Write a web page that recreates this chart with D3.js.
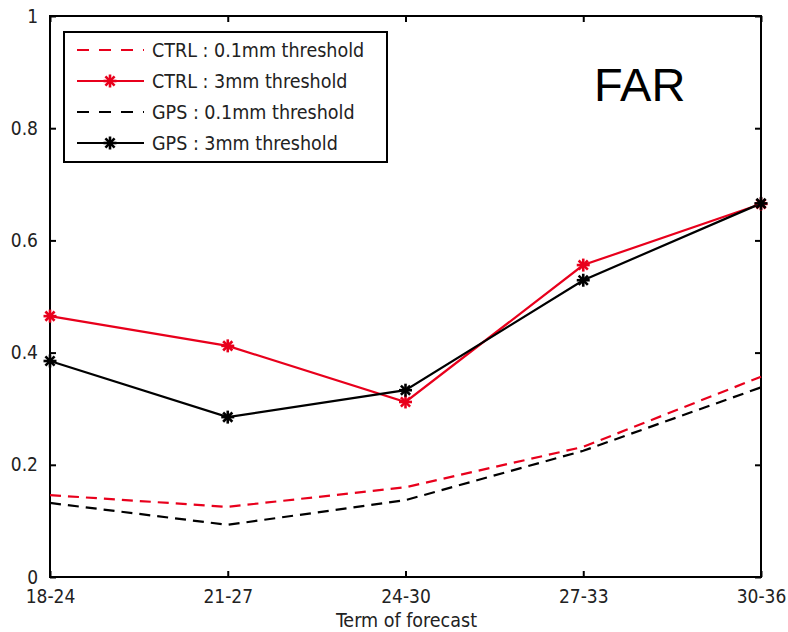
<!DOCTYPE html>
<html>
<head>
<meta charset="utf-8">
<script src="https://cdn.jsdelivr.net/npm/d3@7"></script>
<style>
  body { margin: 0; background: #fff; }
  svg text { font-family: "DejaVu Sans Condensed", "Liberation Sans Narrow", "DejaVu Sans", sans-serif; }
</style>
</head>
<body>
<script>
var terms = ["18-24", "21-27", "24-30", "27-33", "30-36"];
var ctrl01 = [0.146, 0.125, 0.160, 0.232, 0.357];
var ctrl3 = [0.465, 0.412, 0.312, 0.556, 0.665];
var gps01 = [0.132, 0.093, 0.137, 0.225, 0.338];
var gps3 = [0.385, 0.285, 0.333, 0.529, 0.666];
var yTicks = [0, 0.2, 0.4, 0.6, 0.8, 1];
var yTickLabels = ["0", "0.2", "0.4", "0.6", "0.8", "1"];

var series = [
  {name: "CTRL : 0.1mm threshold", values: ctrl01, color: "#e8001c", dash: "11,7", marker: false},
  {name: "CTRL : 3mm threshold", values: ctrl3, color: "#e8001c", dash: null, marker: true},
  {name: "GPS : 0.1mm threshold", values: gps01, color: "#000", dash: "11,7", marker: false},
  {name: "GPS : 3mm threshold", values: gps3, color: "#000", dash: null, marker: true}
];

var W = 788, H = 632;
var margin = {left: 50, right: 27, top: 16, bottom: 55};
var svg = d3.select("body").append("svg").attr("width", W).attr("height", H);

var x = d3.scalePoint().domain(terms).range([margin.left, W - margin.right]);
var y = d3.scaleLinear().domain([0, 1]).range([H - margin.bottom, margin.top]);

// frame
svg.append("rect")
  .attr("x", margin.left).attr("y", margin.top)
  .attr("width", W - margin.left - margin.right)
  .attr("height", H - margin.top - margin.bottom)
  .attr("fill", "none").attr("stroke", "#000").attr("stroke-width", 2);

// axes (ticks inward)
var xAxis = svg.append("g").attr("transform", "translate(0," + y(0) + ")")
  .call(d3.axisBottom(x).tickSizeInner(-6).tickSizeOuter(0).tickPadding(13));
var xTop = svg.append("g").attr("transform", "translate(0," + y(1) + ")")
  .call(d3.axisTop(x).tickSizeInner(-6).tickSizeOuter(0).tickFormat(""));
var yAxis = svg.append("g").attr("transform", "translate(" + margin.left + ",0)")
  .call(d3.axisLeft(y).tickValues(yTicks).tickFormat(function(d, i) { return yTickLabels[i]; })
    .tickSizeInner(-6).tickSizeOuter(0).tickPadding(12));
var yRight = svg.append("g").attr("transform", "translate(" + (W - margin.right) + ",0)")
  .call(d3.axisRight(y).tickValues(yTicks).tickSizeInner(-6).tickSizeOuter(0).tickFormat(""));

[xAxis, xTop, yAxis, yRight].forEach(function(g) {
  g.select(".domain").remove();
  g.selectAll(".tick line").attr("stroke", "#000").attr("stroke-width", 2);
  g.selectAll("text").attr("fill", "#222").style("font-size", "19px");
});

svg.append("text").attr("x", (margin.left + W - margin.right) / 2 + 1).attr("y", 627)
  .attr("text-anchor", "middle").attr("fill", "#222").style("font-size", "19.5px")
  .text("Term of forecast");

// lines
var line = d3.line().x(function(d, i) { return x(terms[i]); }).y(function(d) { return y(d); });

function asterisk(g, cx, cy, color) {
  var r = 6.5;
  [0, 45, 90, 135].forEach(function(a) {
    var rad = a * Math.PI / 180;
    g.append("line")
      .attr("x1", cx - r * Math.cos(rad)).attr("y1", cy - r * Math.sin(rad))
      .attr("x2", cx + r * Math.cos(rad)).attr("y2", cy + r * Math.sin(rad))
      .attr("stroke", color).attr("stroke-width", 2.6);
  });
}

var plot = svg.append("g");
series.forEach(function(s) {
  plot.append("path").datum(s.values)
    .attr("d", line).attr("fill", "none")
    .attr("stroke", s.color).attr("stroke-width", 2.2)
    .attr("stroke-dasharray", s.dash);
});
series.forEach(function(s) {
  if (!s.marker) return;
  s.values.forEach(function(v, i) { asterisk(plot, x(terms[i]), y(v), s.color); });
});

// legend
var lg = svg.append("g");
lg.append("rect").attr("x", 64).attr("y", 32).attr("width", 323).attr("height", 130)
  .attr("fill", "#fff").attr("stroke", "#000").attr("stroke-width", 2);
series.forEach(function(s, i) {
  var ly = 50 + i * 31;
  lg.append("line").attr("x1", 77).attr("x2", 144).attr("y1", ly).attr("y2", ly)
    .attr("stroke", s.color).attr("stroke-width", 2.2)
    .attr("stroke-dasharray", s.dash ? "12,10" : null);
  if (s.marker) asterisk(lg, 110, ly, s.color);
  lg.append("text").attr("x", 152).attr("y", ly + 7).attr("fill", "#222")
    .style("font-size", "19.5px").text(s.name);
});

svg.append("text").attr("x", 594).attr("y", 101)
  .style("font-family", "'Liberation Sans', Arial, sans-serif")
  .style("font-size", "47px").attr("fill", "#000").text("FAR");
</script>
</body>
</html>
